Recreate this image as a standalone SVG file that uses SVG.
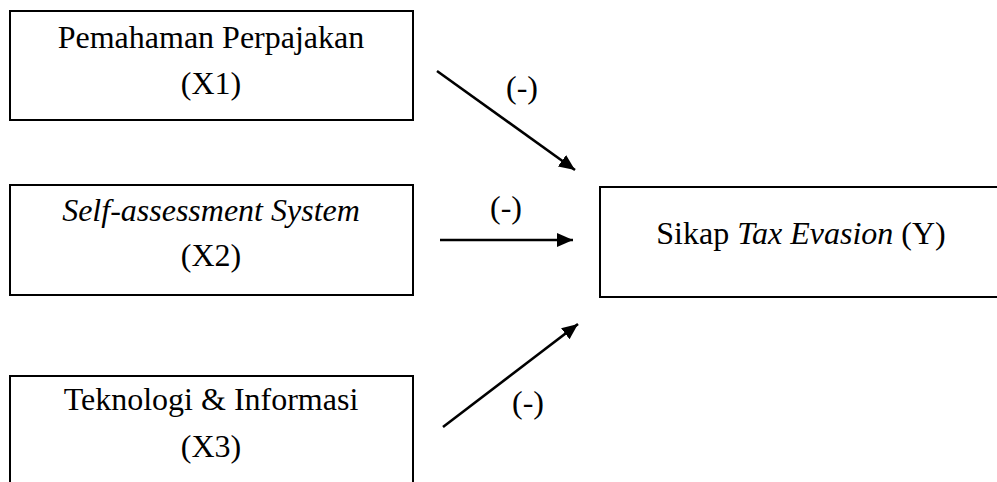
<svg xmlns="http://www.w3.org/2000/svg" width="997" height="482" viewBox="0 0 997 482">
<style>
.box{fill:#fff;stroke:#000;stroke-width:2}
.t{font-family:'Liberation Serif','Times New Roman',serif;font-size:32px;fill:#000;text-anchor:middle}
.i{font-style:italic}
.c{stroke:#000;stroke-width:2.6;fill:none;marker-end:url(#ah)}
</style>
<defs>
<marker id="ah" markerUnits="userSpaceOnUse" markerWidth="18" markerHeight="14" refX="16" refY="7" orient="auto">
<path d="M0,0 L16,7 L0,14 Z" fill="#000"/>
</marker>
</defs>
<g id="x1">
<rect class="box" x="10" y="11" width="403" height="109"/>
<text class="t" x="211" y="48">Pemahaman Perpajakan</text>
<text class="t" x="211" y="94">(X1)</text>
</g>
<g id="x2">
<rect class="box" x="10" y="185" width="403" height="110"/>
<text class="t i" x="211" y="221">Self-assessment System</text>
<text class="t" x="211" y="266">(X2)</text>
</g>
<g id="x3">
<rect class="box" x="10" y="376" width="403" height="120"/>
<text class="t" x="211" y="410">Teknologi &amp; Informasi</text>
<text class="t" x="211" y="457">(X3)</text>
</g>
<g id="y">
<rect class="box" x="600" y="187" width="410" height="110"/>
<text class="t" x="801" y="244">Sikap <tspan class="i">Tax Evasion</tspan> (Y)</text>
</g>
<g id="connectors">
<line class="c" x1="437" y1="71" x2="575" y2="170"/>
<line class="c" x1="440" y1="240" x2="573" y2="240"/>
<line class="c" x1="443" y1="427" x2="578" y2="324"/>
<text class="t" x="522" y="98">(-)</text>
<text class="t" x="506" y="218">(-)</text>
<text class="t" x="528" y="413">(-)</text>
</g>
</svg>
